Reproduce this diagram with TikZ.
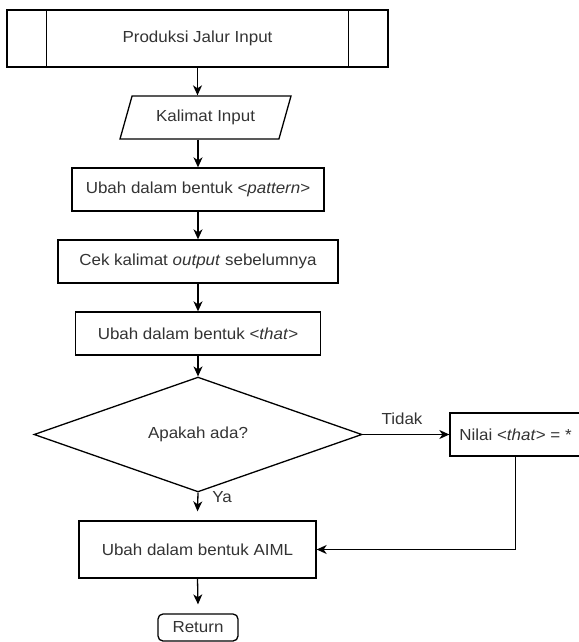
\documentclass[tikz,border=0pt]{standalone}
\usepackage{fontspec}
\setmainfont{Liberation Sans}[FakeStretch=1.06]
\usetikzlibrary{arrows.meta,shapes.geometric}
\begin{document}
\begin{tikzpicture}[x=1pt,y=-1pt,
  every node/.style={font=\fontsize{16}{19}\selectfont, text=black!80},
  stroke/.style={draw=black, line width=1.3pt},
  box/.style={stroke, rectangle, inner sep=0pt, minimum height=43pt},
  para/.style={stroke, trapezium, trapezium left angle=51, trapezium right angle=129,
    trapezium stretches body, inner sep=0pt, minimum width=171pt, minimum height=43pt},
  decision/.style={stroke, diamond, inner sep=0pt, minimum width=328pt, minimum height=99pt},
  terminal/.style={stroke, rectangle, rounded corners=5pt, inner sep=0pt,
    minimum width=80pt, minimum height=27pt},
  flow/.style={stroke, -{Stealth[length=10pt,width=9pt,inset=3pt]}},
  lbl/.style={inner sep=0pt}]
\useasboundingbox (0,0) rectangle (578,642);

% predefined process with its two inner bars
\node[box, minimum width=381pt, minimum height=57pt] (proc) at (197.5,38.5) {Produksi Jalur Input};
\draw[stroke] ([xshift=40pt]proc.north west) -- ([xshift=40pt]proc.south west);
\draw[stroke] ([xshift=-40pt]proc.north east) -- ([xshift=-40pt]proc.south east);

\node[para] (inp) at (205.5,117.5) {Kalimat Input};
\node[box, minimum width=252pt] (pat) at (198,189.5) {Ubah dalam bentuk <\textit{pattern}>};
\node[box, minimum width=280pt] (cek) at (198,261.5) {Cek kalimat \textit{output} sebelumnya};
\node[box, minimum width=245pt] (that) at (198,333.5) {Ubah dalam bentuk <\textit{that}>};
\node[decision] (dec) at (198,434.5) {Apakah ada?};
\node[box, minimum width=131pt] (nilai) at (515.5,434.5) {Nilai <\textit{that}> = *};
\node[box, minimum width=237pt, minimum height=57pt] (aiml) at (197.5,549.5) {Ubah dalam bentuk AIML};
\node[terminal] (ret) at (198,627.5) {Return};

\node[lbl] (tidak) at (402,419) {Tidak};
\node[lbl] (ya) at (222,497) {Ya};

% connectors
\draw[flow] (proc.south) -- (proc.south |- inp.north);
\draw[flow] (pat.north |- inp.south) -- (pat.north);
\draw[flow] (pat.south) -- (cek.north);
\draw[flow] (cek.south) -- (that.north);
\draw[flow] (that.south) -- (dec.north);
\draw[flow] (dec.east) -- (nilai.west);
\draw[flow] (dec.south) -- ([yshift=9pt]aiml.north);
\draw[flow] (nilai.south) |- (aiml.east);
\draw[flow] (aiml.south) -- ([yshift=9pt]ret.north);
\end{tikzpicture}
\end{document}
